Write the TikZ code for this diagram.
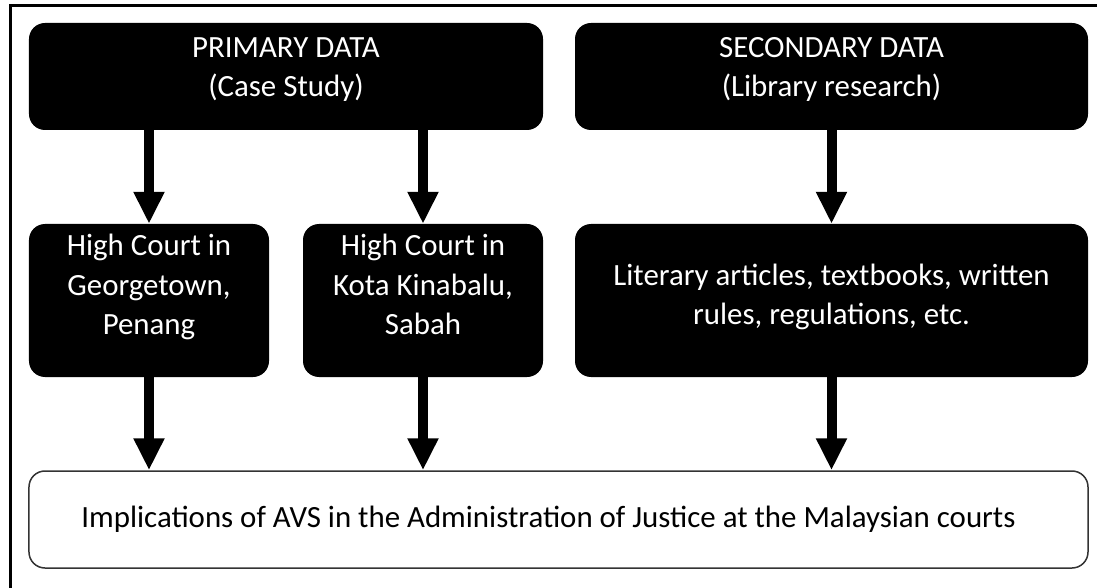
\documentclass[tikz,border=0pt]{standalone}
\usepackage{fontspec}
\setmainfont{Carlito}
\usetikzlibrary{arrows.meta}
\begin{document}
\begin{tikzpicture}[x=1bp,y=-1bp,
  blackbox/.style={fill=black, rounded corners=16bp, text=white, align=center,
    font=\fontsize{31}{39.5}\selectfont, inner sep=0pt},
  whitebox/.style={draw=black!80, line width=1.5bp, rounded corners=16bp, align=center,
    font=\fontsize{31}{39.5}\selectfont, inner sep=0pt, fill=white},
  flow/.style={line width=10bp, -{Triangle[width=29bp,length=32bp]}},
  frame/.style={line width=3bp}]
\useasboundingbox (0,0) rectangle (1097,588);
\draw[frame] (1097,6) -- (10,6) -- (10,588);
\node[blackbox, minimum width=514bp, minimum height=107bp, text depth=19bp] (prim) at (286,76.5) {PRIMARY DATA\\(Case Study)};
\node[blackbox, minimum width=513bp, minimum height=107bp, text depth=19bp] (sec) at (831.5,76.5) {SECONDARY DATA\\(Library research)};
\node[blackbox, minimum width=240bp, minimum height=153bp, text depth=32bp] (geo) at (149,300.5) {High Court in\\Georgetown,\\Penang};
\node[blackbox, minimum width=240bp, minimum height=153bp, text depth=32bp] (kota) at (423,300.5) {High Court in\\Kota Kinabalu,\\Sabah};
\node[blackbox, minimum width=513bp, minimum height=153bp, text depth=12bp] (lit) at (831.5,300.5) {Literary articles, textbooks, written\\rules, regulations, etc.};
\node[whitebox, minimum width=1059bp, minimum height=97bp] (bot) at (558.5,519.5) {Implications of AVS in the Administration of Justice at the Malaysian courts\hspace*{20bp}};
\draw[flow] (geo.north |- prim.south) -- (geo.north);
\draw[flow] (kota.north |- prim.south) -- (kota.north);
\draw[flow] (sec.south) -- (lit.north);
\draw[flow] (geo.south) -- (geo.south |- bot.north);
\draw[flow] (kota.south) -- (kota.south |- bot.north);
\draw[flow] (lit.south) -- (lit.south |- bot.north);
\end{tikzpicture}
\end{document}
